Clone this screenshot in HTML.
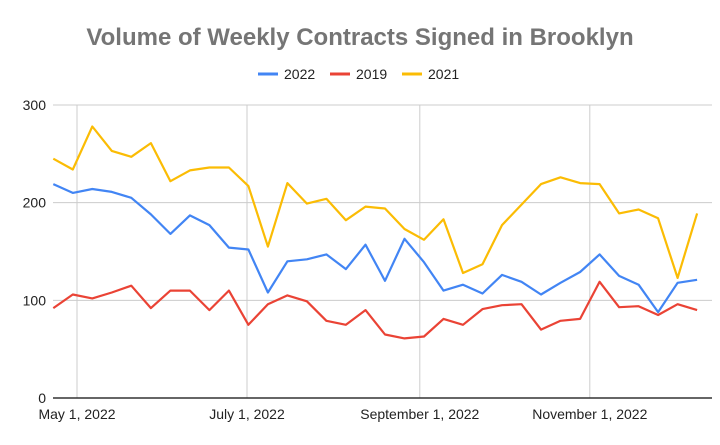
<!DOCTYPE html>
<html><head><meta charset="utf-8"><style>
body{margin:0;background:#fff;}
svg{display:block;font-family:"Liberation Sans",Arial,sans-serif;}
</style></head><body>
<svg id="chart" width="720" height="445">
<text x="360" y="45" text-anchor="middle" font-size="24" font-weight="bold" fill="#757575">Volume of Weekly Contracts Signed in Brooklyn</text>
<g id="legend"></g>
<g id="grid"></g><g id="lines"></g><g id="axes"></g>
</svg>
<script>
const seriesNames=["2022","2019","2021"];
const seriesColors=["#4285f4","#ea4335","#fbbc04"];
const v2022=[219,210,214,211,205,188,168,187,177,154,152,108,140,142,147,132,157,120,163,139,110,116,107,126,119,106,118,129,147,125,116,88,118,121];
const v2019=[92,106,102,108,115,92,110,110,90,110,75,96,105,99,79,75,90,65,61,63,81,75,91,95,96,70,79,81,119,93,94,85,96,90];
const v2021=[245,234,278,253,247,261,222,233,236,236,217,155,220,199,204,182,196,194,173,162,183,128,137,177,198,219,226,220,219,189,193,184,123,189];
const yTicks=[0,100,200,300];
const xTickLabels=["May 1, 2022","July 1, 2022","September 1, 2022","November 1, 2022"];
const xTickDays=[0,61,123,184];
const firstDay=-8.5, weekDays=7;
const NS="http://www.w3.org/2000/svg";
const x0=53,x1=712,yTop=105,yBot=398;
function xs(day){return 77+day*2.787;}
function ys(v){return yBot-(v/300)*(yBot-yTop);}
function mk(tag,attrs,parent){const e=document.createElementNS(NS,tag);for(const k in attrs)e.setAttribute(k,attrs[k]);parent.appendChild(e);return e;}
const grid=document.getElementById('grid'),axes=document.getElementById('axes'),lines=document.getElementById('lines'),legend=document.getElementById('legend');
yTicks.forEach(t=>{
  if(t>0){const l=mk('line',{x1:x0,x2:x1,y1:ys(t),y2:ys(t),stroke:'#ccc','stroke-width':1},grid);
  
  }
  const tx=mk('text',{x:46,y:ys(t)+5,'text-anchor':'end','font-size':14,fill:'#222'},axes);tx.textContent=t;
  
  
});
xTickDays.forEach((d,i)=>{
  const l=mk('line',{x1:xs(d),x2:xs(d),y1:yTop,y2:yBot,stroke:'#ccc','stroke-width':1},grid);
  
  
  const tx=mk('text',{x:xs(d),y:419,'text-anchor':'middle','font-size':14,fill:'#222'},axes);tx.textContent=xTickLabels[i];
  
  
});
const ax=mk('line',{x1:x0,x2:x1,y1:yBot,y2:yBot,stroke:'#333','stroke-width':1.5},axes);


[v2022,v2019,v2021].forEach((vals,si)=>{
  const pts=vals.map((v,i)=>xs(firstDay+i*weekDays).toFixed(1)+','+ys(v).toFixed(1)).join(' ');
  const p=mk('polyline',{points:pts,fill:'none',stroke:seriesColors[si],'stroke-width':2.2,'stroke-linejoin':'round'},lines);
  
  
});
const lx=[258,330,402];
seriesNames.forEach((n,i)=>{
  const g=mk('g',{},legend);
  
  
  mk('line',{x1:lx[i],x2:lx[i]+20,y1:74,y2:74,stroke:seriesColors[i],'stroke-width':3},g);
  const t=mk('text',{x:lx[i]+26,y:79,'font-size':14,fill:'#222'},g);t.textContent=n;
});
</script>
</body></html>
